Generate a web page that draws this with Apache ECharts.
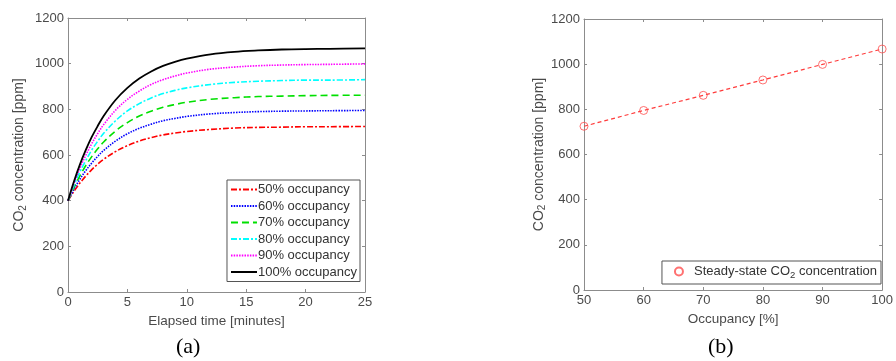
<!DOCTYPE html>
<html><head><meta charset="utf-8">
<script src="https://cdn.jsdelivr.net/npm/echarts@6/dist/echarts.min.js"></script>
<style>html,body{margin:0;padding:0;background:#fff}#c{width:896px;height:361px}</style>
</head><body><div id="c"></div>
<script>
// ---- data ----
const times = [0, 0.5, 1, 1.5, 2, 2.5, 3, 4, 5, 6, 7, 8, 9, 10, 12, 14, 16, 18, 20, 22, 25];
const occ50  = [400, 441, 477, 508, 536, 560, 581, 615, 641, 661, 676, 688, 696, 703, 712, 718, 721, 722, 724, 724, 725];
const occ60  = [400, 450, 494, 532, 565, 594, 620, 661, 693, 717, 735, 750, 760, 769, 780, 786, 790, 792, 793, 794, 795];
const occ70  = [400, 458, 509, 554, 593, 627, 657, 705, 742, 771, 792, 809, 821, 831, 844, 851, 856, 858, 860, 861, 862];
const occ80  = [400, 467, 526, 576, 622, 660, 695, 750, 793, 825, 850, 869, 883, 894, 909, 918, 923, 926, 928, 928, 930];
const occ90  = [400, 475, 542, 599, 650, 694, 733, 796, 844, 880, 909, 930, 946, 959, 976, 985, 991, 994, 996, 997, 999];
const occ100 = [400, 484, 558, 622, 679, 727, 771, 841, 894, 935, 966, 990, 1008, 1022, 1041, 1052, 1058, 1062, 1064, 1065, 1067];
const seriesNames = ['50% occupancy', '60% occupancy', '70% occupancy', '80% occupancy', '90% occupancy', '100% occupancy'];

const occupancy = [50, 60, 70, 80, 90, 100];
const steadyState = [725, 795, 862, 930, 999, 1067];

const xTicksA = [0, 5, 10, 15, 20, 25];
const xTicksB = [50, 60, 70, 80, 90, 100];
const yTicks = [0, 200, 400, 600, 800, 1000, 1200];

// ---- styles ----
const curves = [occ50, occ60, occ70, occ80, occ90, occ100];
const colors = ['#ff0000', '#0000ff', '#00e000', '#00ffff', '#ff00ff', '#000000'];
const dashes = [[6, 2, 2, 2], [1.5, 1.2], [7, 4], [6, 2, 2, 2], [1.5, 1.2], 'solid'];

const axisCol = '#8c8c8c';
const labCol = '#4a4a4a';
const font = 'Liberation Sans, Arial, sans-serif';
const subRich = {
  sub: { fontSize: 10, fontFamily: font, color: labCol, verticalAlign: 'bottom', padding: [7, 0, 0, 0] }
};

function xAx(grid, ticks, pos, name, showLab) {
  return {
    type: 'value', gridIndex: grid, position: pos,
    min: ticks[0], max: ticks[ticks.length - 1], interval: ticks[1] - ticks[0],
    name: showLab ? name : '', nameLocation: 'middle', nameGap: 15,
    nameTextStyle: { fontSize: 13.5, color: labCol, fontFamily: font },
    axisLine: { show: true, onZero: false, lineStyle: { color: axisCol, width: 1 } },
    axisTick: { show: true, inside: true, length: 3, lineStyle: { color: axisCol } },
    axisLabel: { show: showLab, fontSize: 13, color: labCol, fontFamily: font, margin: 4, formatter: v => String(v) },
    splitLine: { show: false }
  };
}
function yAx(grid, pos, showLab, gap) {
  return {
    type: 'value', gridIndex: grid, position: pos,
    min: yTicks[0], max: yTicks[yTicks.length - 1], interval: yTicks[1] - yTicks[0],
    name: showLab ? 'CO{sub|2} concentration [ppm]' : '', nameLocation: 'middle', nameGap: gap,
    nameTextStyle: { fontSize: 14, color: labCol, fontFamily: font, rich: subRich },
    axisLine: { show: true, onZero: false, lineStyle: { color: axisCol, width: 1 } },
    axisTick: { show: true, inside: true, length: 3, lineStyle: { color: axisCol } },
    axisLabel: { show: showLab, fontSize: 13, color: labCol, fontFamily: font, margin: 4, formatter: v => String(v) },
    splitLine: { show: false }
  };
}

const series = curves.map((arr, k) => ({
  name: seriesNames[k], type: 'line', xAxisIndex: 0, yAxisIndex: 0,
  data: times.map((t, i) => [t, arr[i]]),
  symbol: 'none', smooth: 0.35,
  itemStyle: { color: colors[k] },
  lineStyle: { color: colors[k], width: k === 5 ? 1.8 : 1.6, type: dashes[k] }
}));
series.push({
  name: 'fit', type: 'line', xAxisIndex: 2, yAxisIndex: 2,
  data: occupancy.map((o, i) => [o, steadyState[i]]),
  symbol: 'none', lineStyle: { color: '#ff3b3b', width: 1.2, type: [4, 3] }, z: 2
});
series.push({
  name: 'Steady-state CO2 concentration', type: 'scatter', xAxisIndex: 2, yAxisIndex: 2,
  data: occupancy.map((o, i) => [o, steadyState[i]]),
  symbol: 'circle', symbolSize: 8,
  itemStyle: { color: 'rgba(255,255,255,0)', borderColor: '#ff4d4d', borderWidth: 1 }, z: 3
});

const chart = echarts.init(document.getElementById('c'), null, { renderer: 'canvas' });
chart.setOption({
  animation: false,
  backgroundColor: '#ffffff',
  grid: [
    { left: 68, top: 18, width: 297, height: 274 },
    { left: 584, top: 19, width: 303, height: 271 }
  ],
  xAxis: [
    xAx(0, xTicksA, 'bottom', 'Elapsed time [minutes]', true),
    xAx(0, xTicksA, 'top', '', false),
    xAx(1, xTicksB, 'bottom', 'Occupancy [%]', true),
    xAx(1, xTicksB, 'top', '', false)
  ],
  yAxis: [
    yAx(0, 'left', true, 40),
    yAx(0, 'right', false, 0),
    yAx(1, 'left', true, 33),
    yAx(1, 'right', false, 0)
  ],
  legend: [
    {
      data: seriesNames, orient: 'vertical', right: 536, top: 180,
      itemWidth: 26, itemHeight: 14, itemGap: 3.5,
      itemStyle: { opacity: 0 },
      padding: [3, 3, 3, 3], borderColor: '#555', borderWidth: 1, backgroundColor: '#fff',
      textStyle: { fontSize: 13, color: '#333', fontFamily: font, padding: [0, 0, 0, -4] },
      selectedMode: false
    },
    {
      data: ['Steady-state CO2 concentration'], orient: 'horizontal', right: 15, top: 261,
      itemWidth: 8, itemHeight: 8,
      padding: [4, 4, 4, 12], borderColor: '#555', borderWidth: 1, backgroundColor: '#fff',
      formatter: () => 'Steady-state CO{sub|2} concentration',
      textStyle: { fontSize: 13, color: '#333', fontFamily: font, padding: [0, 0, 0, 6],
        rich: { sub: { fontSize: 9.5, fontFamily: font, color: '#333', verticalAlign: 'bottom', padding: [7, 0, 0, 0] } } },
      selectedMode: false
    }
  ],
  graphic: [
    { type: 'text', left: 176, top: 336, style: { text: '(a)', fontSize: 22, fontFamily: 'Liberation Serif, Times New Roman, serif', fill: '#000' } },
    { type: 'text', left: 708, top: 336, style: { text: '(b)', fontSize: 22, fontFamily: 'Liberation Serif, Times New Roman, serif', fill: '#000' } }
  ],
  series: series
});
</script>
</body></html>
